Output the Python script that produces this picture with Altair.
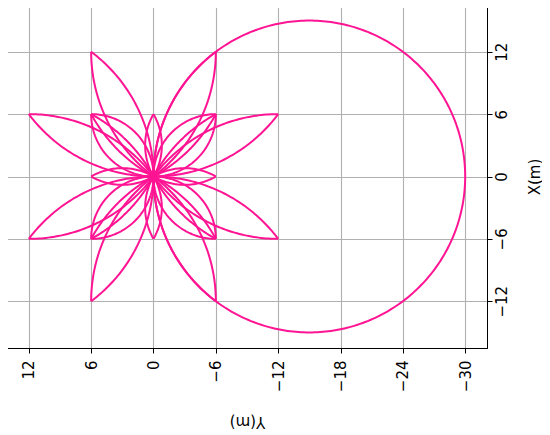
import numpy as np
import pandas as pd
import altair as alt

# ---- data (Y = horizontal, X = vertical) ----
OUTER_TIPS_Y = [6, 12, 12, 6, -6, -12, -12, -6]
OUTER_TIPS_X = [12, 6, -6, -12, 12, 6, -6, -12]
OUTER_RADII = [15]

CORNER_TIPS_Y = [6, 6, -6, -6]
CORNER_TIPS_X = [6, -6, 6, -6]
CORNER_RADII = [6, 15]

AXIS_TIPS_Y = [0, 0, 6, -6]
AXIS_TIPS_X = [6, -6, 0, 0]
AXIS_RADII = [6]

CIRCLE_CENTER = (-15, 0)
CIRCLE_RADIUS = 15

Y_TICKS = [12, 6, 0, -6, -12, -18, -24, -30]
X_TICKS = [-12, -6, 0, 6, 12]
Y_DOMAIN = [-32.1, 14.1]
X_DOMAIN = [-16.5, 16.5]

rows = []
arc_id = [0]


def add_arc(py, px, radius, side):
    """circular arc from origin to tip (py, px) with the given radius"""
    p = np.array([py, px], dtype=float)
    d = np.linalg.norm(p)
    m = p / 2
    n = np.array([-p[1], p[0]]) / d
    h = np.sqrt(max(radius ** 2 - (d / 2) ** 2, 0))
    c = m + side * h * n
    a0 = np.arctan2(-c[1], -c[0])
    a1 = np.arctan2(p[1] - c[1], p[0] - c[0])
    da = (a1 - a0 + np.pi) % (2 * np.pi) - np.pi
    t = np.linspace(a0, a0 + da, 60)
    for i, tt in enumerate(t):
        rows.append({"Y": c[0] + radius * np.cos(tt), "X": c[1] + radius * np.sin(tt),
                     "arc": arc_id[0], "i": i})
    arc_id[0] += 1


for tys, txs, radii in [(OUTER_TIPS_Y, OUTER_TIPS_X, OUTER_RADII),
                        (CORNER_TIPS_Y, CORNER_TIPS_X, CORNER_RADII),
                        (AXIS_TIPS_Y, AXIS_TIPS_X, AXIS_RADII)]:
    for ty, tx in zip(tys, txs):
        for r in radii:
            add_arc(ty, tx, r, 1)
            add_arc(ty, tx, r, -1)

t = np.linspace(0, 2 * np.pi, 361)
for i, tt in enumerate(t):
    rows.append({"Y": CIRCLE_CENTER[0] + CIRCLE_RADIUS * np.cos(tt),
                 "X": CIRCLE_CENTER[1] + CIRCLE_RADIUS * np.sin(tt),
                 "arc": arc_id[0], "i": i})

df = pd.DataFrame(rows)

chart = alt.Chart(df).mark_line(color="#FF1493", strokeWidth=2).encode(
    x=alt.X("Y:Q",
            scale=alt.Scale(domain=Y_DOMAIN, reverse=True, nice=False, zero=False),
            axis=alt.Axis(values=Y_TICKS, title="Y(m)", labelAngle=270, titleAngle=180,
                          labelAlign="right", labelBaseline="middle",
                          titleBaseline="bottom",
                          labelPadding=7, titlePadding=22)),
    y=alt.Y("X:Q",
            scale=alt.Scale(domain=X_DOMAIN, nice=False, zero=False),
            axis=alt.Axis(values=X_TICKS, title="X(m)", orient="right", labelAngle=270,
                          titleAngle=270, labelAlign="center", labelBaseline="top",
                          titleBaseline="top",
                          labelPadding=2, titlePadding=18)),
    detail="arc:N",
    order="i:Q",
).properties(
    width=480, height=343,
    padding={"left": -1, "top": -3, "right": 0, "bottom": 0},
).configure_view(
    stroke="black", strokeWidth=1
).configure_axis(
    grid=True, gridColor="#b0b0b0", gridWidth=1.1,
    domainColor="black", tickColor="black", tickSize=5,
    labelFont="DejaVu Sans", titleFont="DejaVu Sans",
    labelFontSize=15, titleFontSize=15, titleFontWeight="normal",
    labelColor="black", titleColor="black",
)

chart.save("out.html", embed_options={"renderer": "svg", "actions": False})
